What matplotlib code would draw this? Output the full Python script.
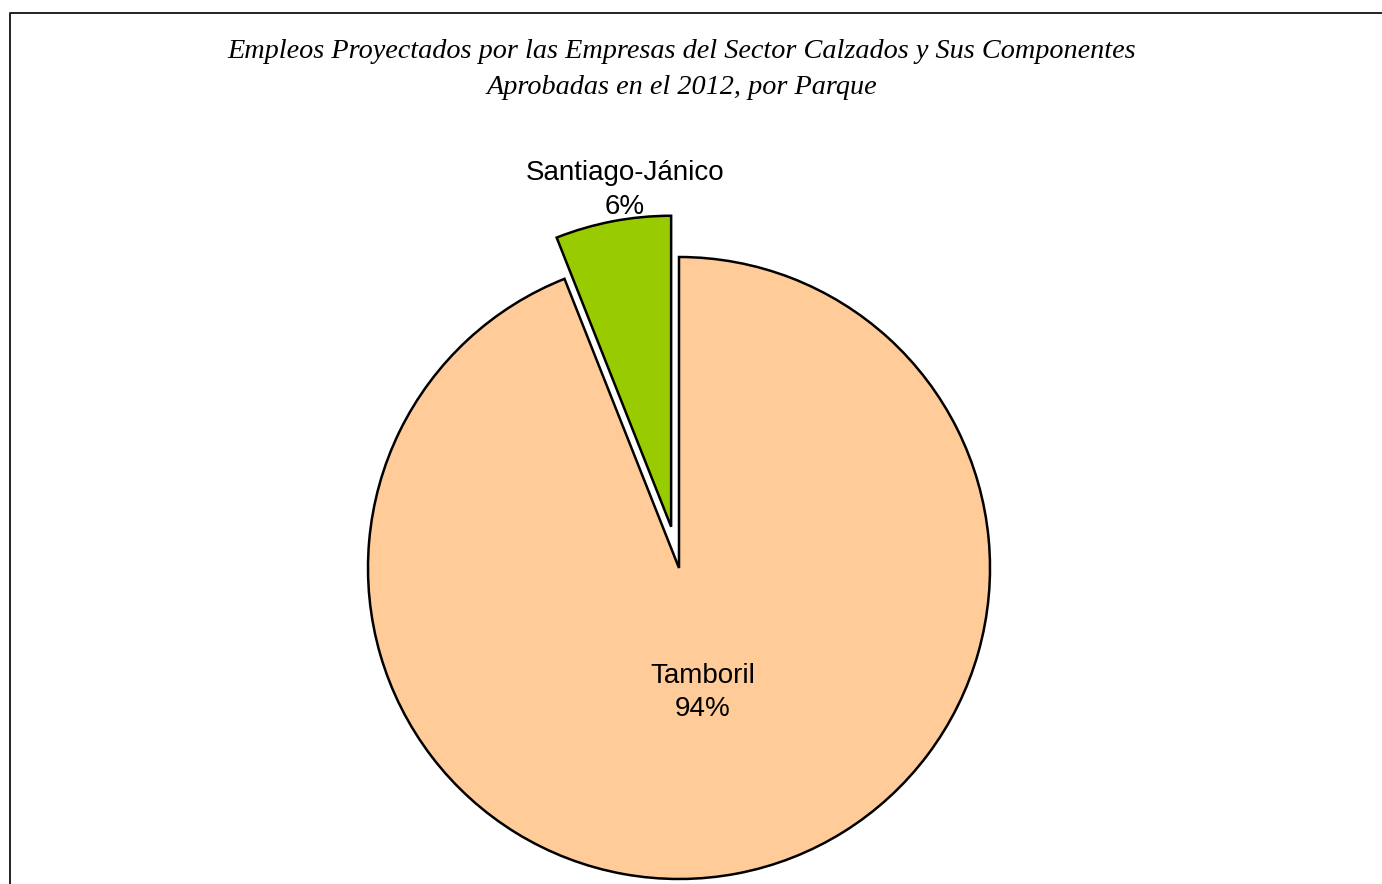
import matplotlib
matplotlib.use("Agg")
import matplotlib.pyplot as plt
from matplotlib.lines import Line2D

# Data
categories = ["Santiago-Jánico", "Tamboril"]
values = [6, 94]
colors = ["#99CC00", "#FFCC99"]
title_lines = ["Empleos Proyectados por las Empresas del Sector Calzados y Sus Componentes",
               "Aprobadas en el 2012, por Parque"]

W, H = 1382, 884
fig = plt.figure(figsize=(W / 100, H / 100), dpi=100)
fig.patch.set_facecolor("white")

# pixel geometry
cx, cy, R = 679, 568, 311
ax = fig.add_axes([0, 0, 1, 1])

wedges, _ = ax.pie(values, colors=colors, startangle=90, counterclock=True,
                   explode=[0.135, 0], radius=1.0,
                   wedgeprops=dict(edgecolor="black", linewidth=1.8),
                   frame=True)
ax.set_xlim(-cx / R, (W - cx) / R)
ax.set_ylim((cy - H) / R, cy / R)
ax.set_aspect("auto")
ax.axis("off")

total = sum(values)
label_pos = [(-0.174, 1.215), (0.077, -0.40)]
for (lx, ly), cat, v in zip(label_pos, categories, values):
    ax.text(lx, ly, f"{cat}\n{round(100 * v / total)}%", ha="center", va="center",
            fontsize=20, family=["Liberation Sans", "DejaVu Sans"], linespacing=1.38)

for i, line in enumerate(title_lines):
    fig.text(681.5 / W, 1 - (52 + 35 * i) / H, line, ha="center", va="center",
             fontsize=20.3, style="italic", family=["Liberation Serif", "DejaVu Serif"])

# outer border (left and top)
fig.add_artist(Line2D([10 / W, 10 / W, 1.0], [0.0, 1 - 12.5 / H, 1 - 12.5 / H],
                      transform=fig.transFigure, color="#222222", linewidth=1.4))

fig.savefig("out.png", dpi=100)
